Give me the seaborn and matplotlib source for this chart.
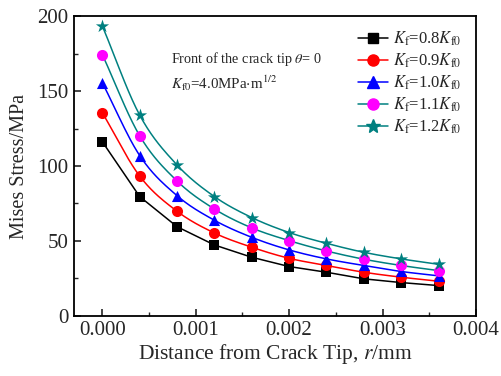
import numpy as np
import pandas as pd
import matplotlib
matplotlib.use("Agg")
import matplotlib.pyplot as plt
import seaborn as sns
from matplotlib.ticker import MultipleLocator
from matplotlib.lines import Line2D

sns.set_theme(style="ticks")
plt.rcParams['font.family'] = ['Liberation Serif', 'DejaVu Serif']
plt.rcParams['mathtext.fontset'] = 'stix'

r = [0.0, 0.0004, 0.0008, 0.0012, 0.0016, 0.0020, 0.0024, 0.0028, 0.0032, 0.0036]
s08 = [116.2, 79.6, 59.5, 47.3, 39.1, 32.9, 29.1, 24.7, 22.2, 20.2]
s09 = [135.6, 93.3, 69.8, 55.3, 45.8, 38.4, 33.6, 29.1, 25.8, 23.1]
s10 = [155.6, 107.0, 80.2, 63.8, 52.4, 44.0, 38.0, 33.6, 29.6, 26.7]
s11 = [174.4, 120.2, 90.0, 71.3, 58.7, 50.2, 43.3, 37.8, 33.6, 30.2]
s12 = [193.5, 134.0, 100.7, 79.6, 65.6, 55.6, 48.4, 42.4, 38.0, 34.4]
labels = [r"$K_\mathrm{f}$=0.8$K_\mathrm{f0}$", r"$K_\mathrm{f}$=0.9$K_\mathrm{f0}$",
          r"$K_\mathrm{f}$=1.0$K_\mathrm{f0}$", r"$K_\mathrm{f}$=1.1$K_\mathrm{f0}$",
          r"$K_\mathrm{f}$=1.2$K_\mathrm{f0}$"]
series = [s08, s09, s10, s11, s12]
colors = ['black', 'red', 'blue', '#008080', '#008080']
mfc = ['black', 'red', 'blue', '#FF00FF', '#008080']
markers = ['s', 'o', '^', 'o', '*']
msizes = [7, 8, 8, 8, 10]
smooth = [False, True, True, True, True]


def hermite(x, y, n=20):
    x = np.asarray(x); y = np.asarray(y)
    xs, ys = [], []
    m = np.zeros_like(y)
    m[1:-1] = (y[2:] - y[:-2]) / (x[2:] - x[:-2])
    m[0] = (y[1] - y[0]) / (x[1] - x[0])
    m[-1] = (y[-1] - y[-2]) / (x[-1] - x[-2])
    for i in range(len(x) - 1):
        h = x[i + 1] - x[i]
        t = np.linspace(0, 1, n, endpoint=False)
        h00 = 2*t**3 - 3*t**2 + 1
        h10 = t**3 - 2*t**2 + t
        h01 = -2*t**3 + 3*t**2
        h11 = t**3 - t**2
        xs.append(x[i] + t*h)
        ys.append(h00*y[i] + h10*h*m[i] + h01*y[i+1] + h11*h*m[i+1])
    xs.append([x[-1]]); ys.append([y[-1]])
    return np.concatenate(xs), np.concatenate(ys)


fig, ax = plt.subplots(figsize=(5.02, 3.76), dpi=100)
fig.subplots_adjust(left=0.148, right=0.948, top=0.957, bottom=0.16)

handles = []
for s, c, fc, mk, ms, sm, lab in zip(series, colors, mfc, markers, msizes, smooth, labels):
    if sm:
        xx, yy = hermite(r, s)
    else:
        xx, yy = np.array(r), np.array(s)
    sns.lineplot(x=xx, y=yy, ax=ax, color=c, lw=1.1, sort=False, estimator=None)
    df = pd.DataFrame({'r': r, 's': s})
    sns.scatterplot(data=df, x='r', y='s', ax=ax, marker=mk, s=ms**2, color=fc,
                    edgecolor=fc, linewidth=0, zorder=3)
    handles.append(Line2D([], [], color=c, lw=1.1, marker=mk, markersize=ms,
                          markerfacecolor=fc, markeredgecolor=fc))

ax.legend(handles, labels, loc='upper right', bbox_to_anchor=(1.0, 1.005), frameon=False,
          fontsize=12, handlelength=1.8, handletextpad=0.25, labelspacing=0.22)

ax.set_xlim(-0.0003, 0.004)
ax.set_ylim(0, 200)
ax.xaxis.set_major_locator(MultipleLocator(0.001))
ax.xaxis.set_minor_locator(MultipleLocator(0.0005))
ax.yaxis.set_major_locator(MultipleLocator(50))
ax.yaxis.set_minor_locator(MultipleLocator(25))
ax.xaxis.set_major_formatter(matplotlib.ticker.FormatStrFormatter('%.3f'))
ax.tick_params(which='both', direction='in', top=False, right=False, labelsize=15)
ax.tick_params(which='major', length=5, width=1.2, pad=4)
ax.tick_params(which='minor', length=3, width=1.0)
for sp in ax.spines.values():
    sp.set_linewidth(1.3)
    sp.set_color('black')

ax.set_xlabel(r"Distance from Crack Tip, $r$/mm", fontsize=15.5, labelpad=1)
ax.set_ylabel("Mises Stress/MPa", fontsize=14.5, labelpad=6)

ax.text(0.00074, 168.5, r"Front of the crack tip $\theta$= 0", fontsize=10.3, va='baseline')
ax.text(0.00074, 151.5, r"$K_\mathrm{f0}$=4.0MPa$\cdot$m$^{1/2}$", fontsize=10.8, va='baseline')

fig.savefig("out.png", dpi=100)
